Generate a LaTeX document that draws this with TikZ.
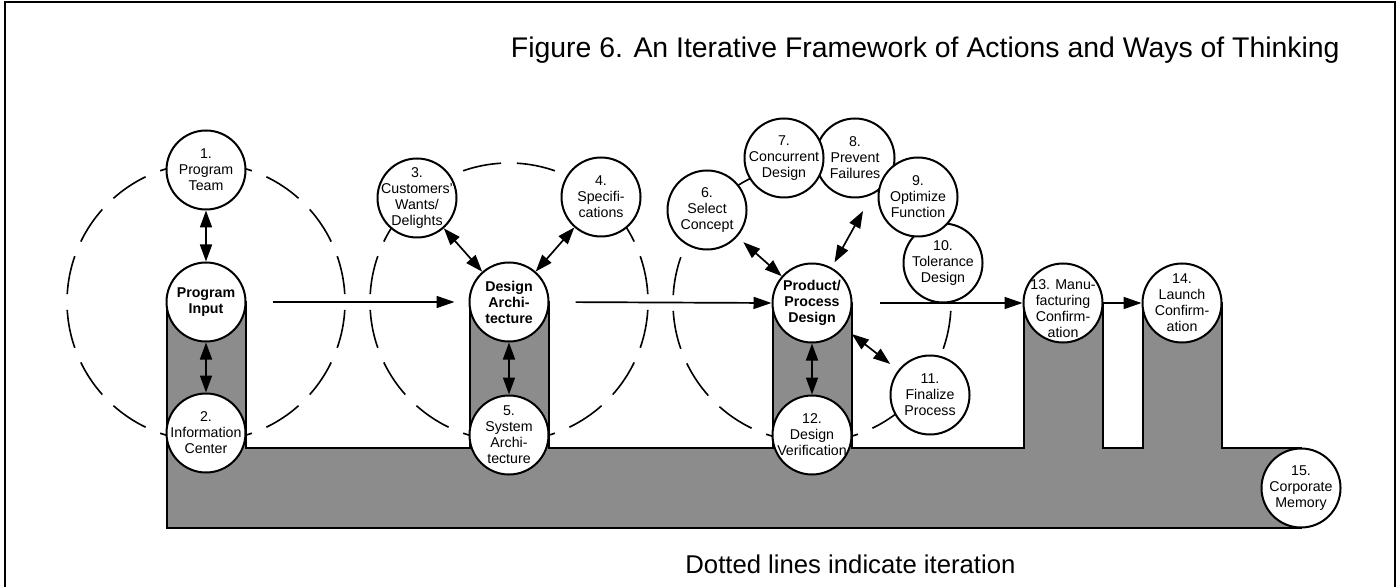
\documentclass[tikz,border=0pt]{standalone}
\usepackage{fontspec}
\setmainfont{Liberation Sans}
\usetikzlibrary{arrows.meta}
\definecolor{bandgray}{RGB}{140,140,140}
\newcommand\cnode[4][lbl]{\node[circ, label={[#1]center:{#4}}] (#2) at (#3) {};}
\begin{document}
\begin{tikzpicture}[x=0.5pt,y=-0.5pt,
  circ/.style={circle, draw, line width=1pt, fill=white, minimum size=39.5pt, inner sep=0pt},
  lbl/.style={align=center, font=\fontsize{7.1pt}{8pt}\selectfont, inner sep=0pt},
  blbl/.style={align=center, font=\fontsize{7.1pt}{8pt}\selectfont\bfseries, inner sep=0pt},
  arr/.style={line width=0.85pt, -{Triangle[length=9pt,width=6pt]}},
  darr/.style={line width=0.85pt, {Triangle[length=8.5pt,width=6pt]}-{Triangle[length=8.5pt,width=6pt]}},
  dsh/.style={line width=0.8pt},
  band/.style={draw, line width=1pt, fill=bandgray},
  frame/.style={line width=1pt}]
\useasboundingbox (0,0) rectangle (1400,587);
% frame
\draw[frame] (5,587) -- (5,2) -- (1395,2) -- (1395,587);
% centres of the iteration loops
\coordinate (k1) at (206,302);
\coordinate (k2) at (509,302);
\coordinate (k3) at (812,303);
% dashed iteration circles
\foreach \c in {k1,k2,k3}{
  \foreach \k in {0,...,15}{
    \draw[dsh] (\c) ++(\k*22.5+3.25:139) arc[start angle=\k*22.5+3.25, delta angle=16, radius=139];
  }
}
% grey band
\draw[band] (166.5,528) -- (166.5,302) -- (245.5,302) -- (245.5,448) -- (469.5,448) -- (469.5,302)
  -- (548.5,302) -- (548.5,448) -- (772.5,448) -- (772.5,303) -- (851.5,303) -- (851.5,448)
  -- (1023.5,448) -- (1023.5,303) -- (1102.5,303) -- (1102.5,448) -- (1142.5,448) -- (1142.5,303)
  -- (1221.5,303) -- (1221.5,448) -- (1301,448) -- (1301,528) -- cycle;
% circles
\cnode{pt}{206,170}{1.\\Program\\Team}
\cnode[blbl]{pi}{206,302}{Program\\Input}
\cnode{ic}{206,433}{2.\\Information\\Center}
\cnode{c3}{417,198}{3.\\Customers'\\Wants/\\Delights}
\cnode{c4}{601,197}{4.\\Specifi-\\cations}
\cnode[blbl]{da}{509,302}{Design\\Archi-\\tecture}
\cnode{sa}{509,435}{5.\\System\\Archi-\\tecture}
\cnode{c6}{707,210}{6.\\Select\\Concept}
\cnode{c8}{855,158}{8.\\Prevent\\Failures}
\cnode{c7}{784,158}{7.\\Concurrent\\Design}
\cnode{c10}{943,263}{10.\\Tolerance\\Design}
\cnode{c9}{918,197}{9.\\Optimize\\Function}
\cnode{c11}{930,395}{11.\\Finalize\\Process}
\cnode[blbl]{ppd}{812,303}{Product/\\Process\\Design}
\cnode{dv}{812,435}{12.\\Design\\Verification}
\cnode[lbl,yshift=-3pt]{m13}{1063,303}{13. Manu-\\facturing\\Confirm-\\ation}
\cnode{l14}{1182,303}{14.\\Launch\\Confirm-\\ation}
\cnode{cm}{1301,488}{15.\\Corporate\\Memory}
% connectors
\coordinate (a8) at (863,211);
\draw[darr] (pt) -- (pi);
\draw[darr] (pi) -- (ic);
\draw[darr] (c3) -- (da);
\draw[darr] (c4) -- (da);
\draw[darr] (da) -- (sa);
\draw[darr, shorten <=4pt] (c6) -- (ppd);
\draw[darr, shorten >=3pt] (a8) -- (ppd);
\draw[darr, shorten <=5pt, shorten >=5pt] (ppd) -- (c11);
\draw[darr] (ppd) -- (dv);
\draw[arr, shorten <=13pt, shorten >=7pt] (pi.east) -- (da.west);
\draw[arr, shorten <=13pt] (da.east) -- (ppd.west);
\draw[arr, shorten <=13.5pt] (ppd.east) -- (m13.west);
\draw[arr] (m13.east) -- (l14.west);
% texts
\node[anchor=base east, font=\fontsize{14.2pt}{16pt}\selectfont, inner sep=0pt] (title) at (1340,58)
  {Figure 6. An Iterative Framework of Actions and Ways of Thinking};
\node[anchor=base west, font=\fontsize{12.85pt}{15pt}\selectfont, inner sep=0pt] (note) at (685,573)
  {Dotted lines indicate iteration};
\end{tikzpicture}
\end{document}
